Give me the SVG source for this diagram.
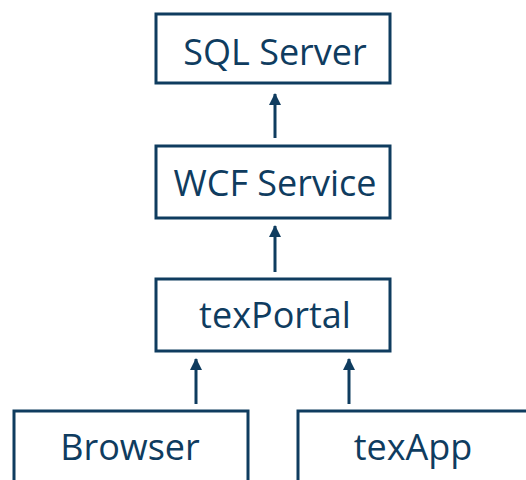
<svg xmlns="http://www.w3.org/2000/svg" width="526" height="480" viewBox="0 0 526 480">
<defs>
<style>
.box{fill:#ffffff;stroke:#0f3c5f;stroke-width:3}
.lbl{font-family:"Open Sans","Noto Sans",sans-serif;font-size:36px;fill:#0f3c5f;text-anchor:middle}
.conn{stroke:#0f3c5f;stroke-width:3;fill:none}
</style>
<marker id="ah" markerUnits="userSpaceOnUse" markerWidth="14" markerHeight="12" refX="12" refY="6.5" orient="auto" viewBox="0 0 13 13">
<path d="M0,0 L13,6.5 L0,13 Z" fill="#0f3c5f"/>
</marker>
</defs>
<rect width="526" height="480" fill="#ffffff"/>
<g id="connectors">
<line class="conn" x1="275" y1="138" x2="275" y2="94" marker-end="url(#ah)"/>
<line class="conn" x1="275" y1="272" x2="275" y2="226" marker-end="url(#ah)"/>
<line class="conn" x1="196" y1="404" x2="196" y2="359" marker-end="url(#ah)"/>
<line class="conn" x1="349" y1="404" x2="349" y2="359" marker-end="url(#ah)"/>
</g>
<g id="sqlserver">
<rect class="box" x="156" y="14" width="234" height="69"/>
<text class="lbl" x="275" y="65">SQL Server</text>
</g>
<g id="wcfservice">
<rect class="box" x="156" y="146" width="234" height="72"/>
<text class="lbl" x="275" y="196">WCF Service</text>
</g>
<g id="texportal">
<rect class="box" x="156" y="279" width="234" height="72"/>
<text class="lbl" x="275" y="328">texPortal</text>
</g>
<g id="browser">
<rect class="box" x="14" y="411" width="234" height="90"/>
<text class="lbl" x="130" y="460">Browser</text>
</g>
<g id="texapp">
<rect class="box" x="298" y="411" width="234" height="90"/>
<text class="lbl" x="413" y="460">texApp</text>
</g>
</svg>
